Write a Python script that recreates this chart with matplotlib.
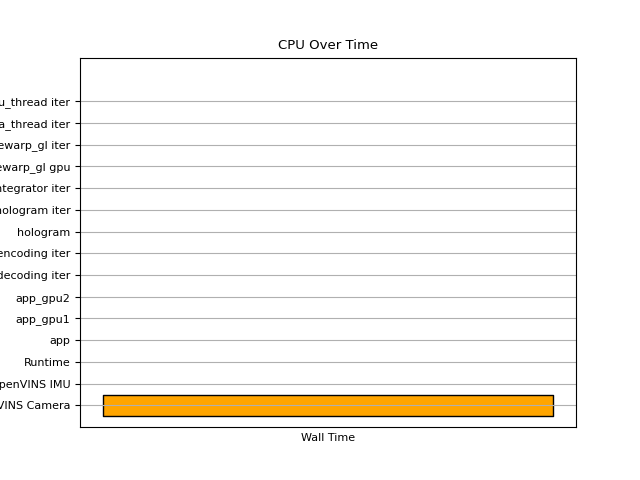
import matplotlib
matplotlib.use("Agg")
import matplotlib.pyplot as plt

# ── Data ───────────────────────────────────────────────────────
tasks = [
    "OpenVINS Camera", "OpenVINS IMU", "Runtime", "app", "app_gpu1", "app_gpu2",
    "audio decoding iter", "audio encoding iter", "hologram", "hologram iter",
    "integrator iter", "timewarp_gl gpu", "timewarp_gl iter",
    "camera_thread iter", "imu_thread iter",
]
# only the camera thread has any recorded span
span_task = "OpenVINS Camera"
span_start = [0.0]
span_width = [62.4]

# ── Plot ───────────────────────────────────────────────────────
fig, ax = plt.subplots(figsize=(6.4, 4.8), dpi=100)

row = tasks.index(span_task)
ax.broken_barh(list(zip(span_start, span_width)), (row - 0.5, 1.0),
               facecolors="orange", edgecolors="black")

ax.set_yticks(range(len(tasks)))
ax.set_yticklabels(tasks)
ax.set_ylim(-1, len(tasks) + 1)
ax.set_xticks([])
ax.grid(axis="y")
ax.set_xlabel("Wall Time", fontsize=8)
ax.set_title("CPU Over Time", fontsize=9.5)
ax.tick_params(axis="y", labelsize=8)

fig.savefig("out.png")
